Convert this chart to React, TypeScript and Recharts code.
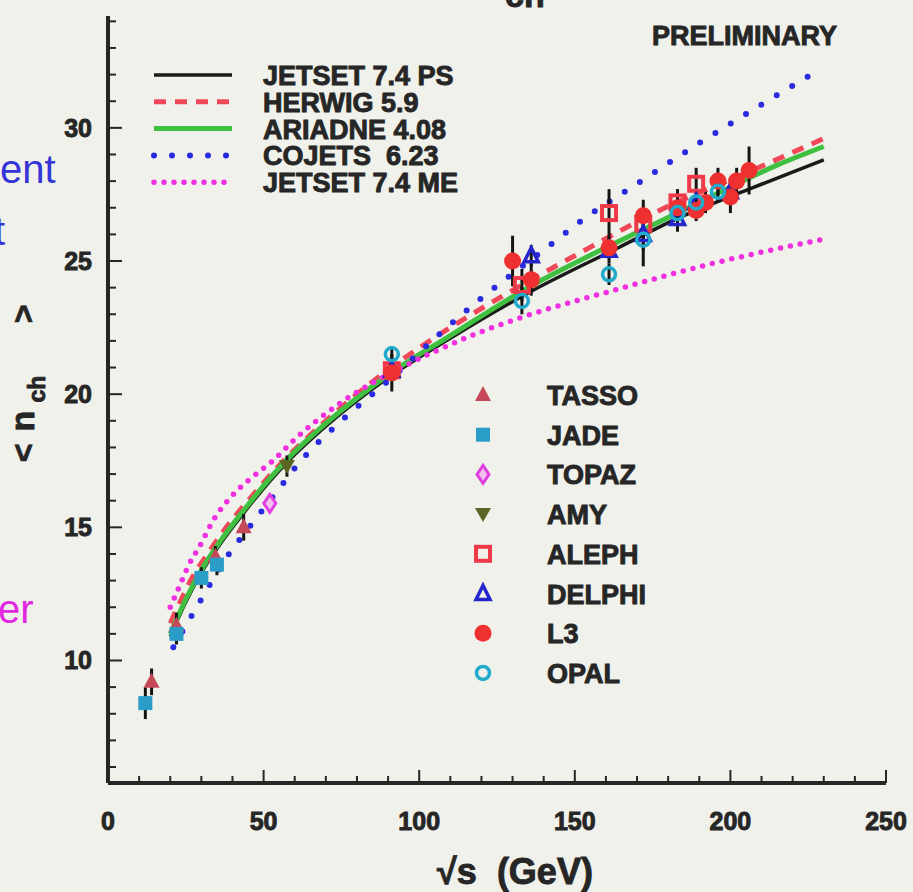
import React from 'react'
import {
  ComposedChart, Line, Scatter, ErrorBar, XAxis, YAxis,
} from 'recharts'

// model curves: [sqrt(s) GeV, <n_ch>]
const jetsetPS = [[20, 10.9], [25, 12.2], [30, 13.3], [35, 14.2], [44, 15.6], [58, 17.5], [70, 18.8], [91, 20.7], [110, 22.1], [135, 23.8], [164, 25.5], [183, 26.6], [206, 27.7], [230, 28.8]]
const herwig = [[20, 11.4], [24, 12.4], [27, 13.1], [32, 14.0], [38, 15.0], [45, 16.0], [54, 17.2], [70, 19.0], [91, 21.0], [110, 22.5], [130, 23.9], [150, 25.2], [179, 27.0], [205, 28.3], [230, 29.6]]
const ariadne = [[20, 11.0], [25, 12.3], [30, 13.4], [35, 14.3], [44, 15.7], [58, 17.6], [70, 18.9], [91, 20.8], [110, 22.2], [135, 24.0], [167, 25.9], [190, 27.2], [215, 28.6], [230, 29.3]]
const cojets = [[21, 10.5], [28, 11.9], [38, 13.85], [46, 15.1], [54, 16.3], [62, 17.5], [75, 19.0], [91, 20.6], [105, 22.1], [121, 23.7], [141, 25.5], [152, 26.5], [170, 27.9], [191, 29.5], [226, 32.0]]
const jetsetME = [[20, 12.0], [23, 12.8], [26, 13.6], [29.5, 14.3], [34, 15.3], [40, 16.2], [45.5, 16.8], [53, 17.5], [60, 18.3], [75, 19.7], [91, 20.8], [105, 21.6], [119, 22.3], [140, 23.15], [161, 23.85], [194, 24.9], [229, 25.8]]

// measurements: [sqrt(s), <n_ch>, error]
const tasso = [[14, 9.2, 0.5], [22, 11.3, 0.5], [34.5, 13.9, 0.4], [43.6, 15.0, 0.5]]
const jade = [[12, 8.4, 0.6], [22, 11.0, 0.4], [30, 13.1, 0.4], [35, 13.6, 0.4]]
const topaz = [[52, 15.9, 0.3]]
const amy = [[57.5, 17.3, 0.4]]
const aleph = [[91.2, 20.9, 0.3], [133, 24.1, 0.6], [161, 26.8, 0.9], [172, 26.4, 0.6], [183, 27.2, 0.5], [189, 27.9, 0.6]]
const delphi = [[91.2, 20.9, 0.3], [136, 25.2, 0.4], [161, 25.4, 0.5], [172, 26.0, 0.6], [183, 26.6, 0.5], [189, 27.2, 0.4], [200, 27.6, 0.5]]
const l3 = [[91.2, 20.8, 0.7], [130, 25.0, 0.95], [136, 24.3, 0.6], [161, 25.5, 0.4], [172, 26.7, 0.6], [183, 27.0, 0.4], [189, 26.9, 0.4], [192, 27.2, 0.4], [196, 28.0, 0.5], [200, 27.4, 0.6], [202, 28.0, 0.5], [206, 28.4, 0.9]]
const opal = [[91.2, 21.5, 0.3], [133, 23.5, 0.5], [161, 24.5, 0.4], [172, 25.8, 1.0], [183, 26.8, 0.5], [189, 27.2, 0.4], [196, 27.6, 0.4]]

const xTicks = Array.from({ length: 26 }, (_, i) => i * 10)
const yTicks = Array.from({ length: 29 }, (_, i) => i + 6)

const INK = '#262626'
const FONT = 'Arial, "Liberation Sans", sans-serif'

const toXY = (arr: number[][]) => arr.map(([x, y]) => ({ x, y }))
const toPts = (arr: number[][]) => arr.map(([x, y, e]) => ({ x, y, e }))

type Kind = 'tasso' | 'jade' | 'topaz' | 'amy' | 'aleph' | 'delphi' | 'l3' | 'opal'

function Mark({ kind, cx, cy }: { kind: Kind; cx: number; cy: number }) {
  switch (kind) {
    case 'tasso':
      return <polygon points={`${cx},${cy - 9} ${cx - 8},${cy + 6} ${cx + 8},${cy + 6}`} fill="#c44858" />
    case 'jade':
      return <rect x={cx - 7} y={cy - 7} width={14} height={14} fill="#2a9cc8" />
    case 'topaz':
      return <polygon points={`${cx},${cy - 9} ${cx + 6},${cy} ${cx},${cy + 9} ${cx - 6},${cy}`} fill="#f4c0f0" stroke="#e040e0" strokeWidth={3} />
    case 'amy':
      return <polygon points={`${cx - 8},${cy - 6} ${cx + 8},${cy - 6} ${cx},${cy + 8}`} fill="#5b6624" />
    case 'aleph':
      return <rect x={cx - 7} y={cy - 7} width={14} height={14} fill="none" stroke="#ee3a48" strokeWidth={4} />
    case 'delphi':
      return <polygon points={`${cx},${cy - 8} ${cx - 7},${cy + 6} ${cx + 7},${cy + 6}`} fill="none" stroke="#2525cc" strokeWidth={3.5} />
    case 'l3':
      return <circle cx={cx} cy={cy} r={8.5} fill="#ee3030" />
    default:
      return <circle cx={cx} cy={cy} r={6.5} fill="none" stroke="#22aacc" strokeWidth={3.5} />
  }
}

const pointSeries: { kind: Kind; name: string; data: number[][] }[] = [
  { kind: 'tasso', name: 'TASSO', data: tasso },
  { kind: 'jade', name: 'JADE', data: jade },
  { kind: 'topaz', name: 'TOPAZ', data: topaz },
  { kind: 'amy', name: 'AMY', data: amy },
  { kind: 'aleph', name: 'ALEPH', data: aleph },
  { kind: 'delphi', name: 'DELPHI', data: delphi },
  { kind: 'l3', name: 'L3', data: l3 },
  { kind: 'opal', name: 'OPAL', data: opal },
]

const curves = [
  { name: 'JETSET 7.4 PS', data: jetsetPS, color: '#1a1a1a', width: 3.5, dash: undefined, cap: 'butt' },
  { name: 'HERWIG 5.9', data: herwig, color: '#f04858', width: 5, dash: '12 9', cap: 'butt' },
  { name: 'ARIADNE 4.08', data: ariadne, color: '#40c040', width: 5, dash: undefined, cap: 'butt' },
  { name: 'COJETS  6.23', data: cojets, color: '#2a2ae0', width: 6, dash: '0 18', cap: 'round' },
  { name: 'JETSET 7.4 ME', data: jetsetME, color: '#f030e0', width: 5.5, dash: '0 10', cap: 'round' },
]

// heavy bold look of the scanned slide
const heavy = { fontFamily: FONT, fontWeight: 'bold' as const, fill: INK, stroke: INK, strokeWidth: 0.9 }

const XTick = (p: any) => {
  const v = p.payload.value
  const major = v % 50 === 0
  return (
    <g>
      <line x1={p.x} x2={p.x} y1={p.y} y2={p.y - (major ? 13 : 7)} stroke={INK} strokeWidth={2} />
      {major && (
        <text x={p.x} y={p.y + 47} textAnchor="middle" fontSize={25} {...heavy}>
          {v}
        </text>
      )}
    </g>
  )
}

const YTick = (p: any) => {
  const v = p.payload.value
  const major = v % 5 === 0
  return (
    <g>
      <line x1={p.x} x2={p.x + (major ? 14 : 8)} y1={p.y} y2={p.y} stroke={INK} strokeWidth={2} />
      {major && (
        <text x={p.x - 16} y={p.y + 9} textAnchor="end" fontSize={25} {...heavy}>
          {v}
        </text>
      )}
    </g>
  )
}

export default function App() {
  return (
    <div style={{ position: 'absolute', left: 0, top: 0, width: 913, height: 892, background: '#f1f1eb', overflow: 'hidden' }}>
      <ComposedChart width={913} height={892} margin={{ top: 16, right: 27, bottom: 69, left: 48 }}>
        <XAxis
          dataKey="x" type="number" domain={[0, 250]} ticks={xTicks} interval={0}
          tickSize={0} tickMargin={0} height={40} tick={<XTick />}
          axisLine={{ stroke: INK, strokeWidth: 4 }} tickLine={false}
        />
        <XAxis xAxisId="top" orientation="top" type="number" domain={[0, 250]} height={0} tick={false} tickLine={false} axisLine={{ stroke: INK, strokeWidth: 4 }} />
        <YAxis
          dataKey="y" type="number" domain={[5.4, 34.2]} ticks={yTicks} interval={0}
          tickSize={0} tickMargin={0} width={60} tick={<YTick />}
          axisLine={{ stroke: INK, strokeWidth: 4 }} tickLine={false}
        />
        <YAxis yAxisId="right" orientation="right" type="number" domain={[5.4, 34.2]} width={0} tick={false} tickLine={false} axisLine={{ stroke: INK, strokeWidth: 4 }} />
        {curves.map((c) => (
          <Line
            key={c.name} data={toXY(c.data)} dataKey="y" type="monotone" dot={false} activeDot={false}
            stroke={c.color} strokeWidth={c.width} strokeDasharray={c.dash} strokeLinecap={c.cap as any}
            isAnimationActive={false}
          />
        ))}
        {pointSeries.map((s) => (
          <Scatter
            key={s.name} data={toPts(s.data)} dataKey="y" isAnimationActive={false}
            shape={(p: any) => <Mark kind={s.kind} cx={p.cx} cy={p.cy} />}
          >
            <ErrorBar dataKey="e" direction="y" width={0} stroke="#151515" strokeWidth={3} isAnimationActive={false} />
          </Scatter>
        ))}
      </ComposedChart>

      <svg width={913} height={892} style={{ position: 'absolute', left: 0, top: 0, pointerEvents: 'none' }}>
        <text x={652} y={45} fontSize={27} {...heavy}>PRELIMINARY</text>
        <text x={505} y={7} fontSize={34} {...heavy}>ch</text>

        {curves.map((c, i) => {
          const y = 75 + i * 26.8
          return (
            <g key={c.name}>
              <line x1={154} x2={232} y1={y} y2={y} stroke={c.color} strokeWidth={c.width} strokeDasharray={c.dash} strokeLinecap={c.cap as any} />
              <text x={263} y={y + 10} fontSize={27} {...heavy} style={{ whiteSpace: 'pre' }}>{c.name}</text>
            </g>
          )
        })}

        {pointSeries.map((s, i) => {
          const y = 395 + i * 39.7
          return (
            <g key={s.name}>
              <Mark kind={s.kind} cx={483} cy={y} />
              <text x={547} y={y + 10} fontSize={27} {...heavy}>{s.name}</text>
            </g>
          )
        })}

        <text x={515} y={884} textAnchor="middle" fontSize={36} {...heavy} style={{ whiteSpace: 'pre' }}>√s  (GeV)</text>

        {/* rotated y title: < n_ch > */}
        <text transform="translate(34,453) rotate(-90)" textAnchor="middle" fontSize={32} {...heavy}>{'<'}</text>
        <text transform="translate(34,421) rotate(-90)" textAnchor="middle" fontSize={34} {...heavy}>n</text>
        <text transform="translate(45,389) rotate(-90)" textAnchor="middle" fontSize={23} {...heavy}>ch</text>
        <text transform="translate(34,314) rotate(-90)" textAnchor="middle" fontSize={32} {...heavy}>{'>'}</text>

        <text x={0} y={183} fontSize={40} fontFamily={FONT} fill="#3434d8">ent</text>
        <text x={-6} y={245} fontSize={40} fontFamily={FONT} fill="#3434d8">t</text>
        <text x={-2} y={623} fontSize={40} fontFamily={FONT} fill="#e028e0">er</text>
      </svg>
    </div>
  )
}
